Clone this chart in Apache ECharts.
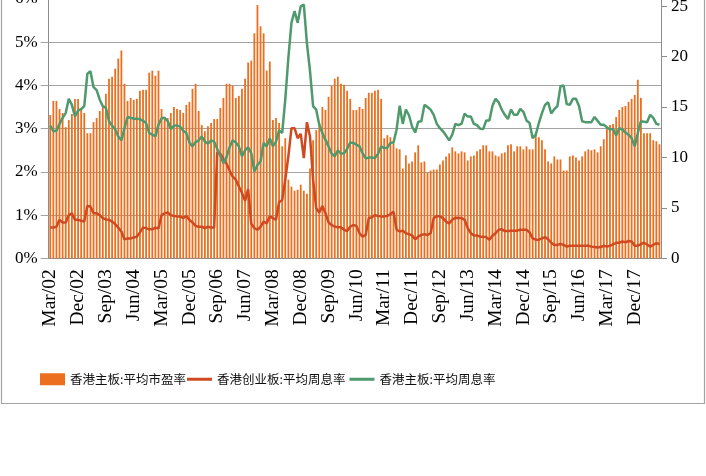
<!DOCTYPE html>
<html>
<head>
<meta charset="utf-8">
<script src="https://cdn.jsdelivr.net/npm/echarts@6/dist/echarts.min.js"></script>
<style>
  html, body { margin: 0; padding: 0; background: #fff; }
  #chart { width: 706px; height: 476px; }
</style>
</head>
<body>
<div id="chart"></div>
<script>
// 月份: 2002年3月 起, 共198个月
var startYear = 2002
var startMonth = 3
var monthCount = 198
var monthNames = ['Jan', 'Feb', 'Mar', 'Apr', 'May', 'Jun', 'Jul', 'Aug', 'Sep', 'Oct', 'Nov', 'Dec']

// 香港主板:平均市盈率 (右轴)
var mainPE = [
  14.2, 15.6, 15.6, 14.8, 14.4, 13.0, 13.7, 14.3, 15.8, 15.8,
  14.9, 14.4, 12.4, 12.4, 13.5, 13.9, 14.6, 15.0, 16.3, 17.8,
  18.0, 18.8, 19.8, 20.6, 17.3, 15.6, 15.9, 15.7, 15.8, 16.6,
  16.7, 16.7, 18.4, 18.6, 18.1, 18.6, 14.8, 14.0, 13.9, 14.4,
  15.0, 14.8, 14.7, 14.4, 15.2, 15.5, 16.8, 17.3, 14.6, 13.2,
  12.6, 13.1, 13.4, 13.8, 13.8, 14.9, 15.9, 17.3, 17.3, 17.1,
  15.9, 16.1, 16.8, 17.8, 19.4, 19.6, 22.3, 25.1, 23.0, 22.3,
  18.6, 19.5, 13.7, 13.9, 13.4, 11.1, 11.9, 7.8, 7.1, 6.7,
  6.8, 7.3, 6.7, 6.4, 8.9, 11.7, 12.7, 13.4, 15.0, 14.7,
  16.0, 17.1, 17.8, 18.0, 17.3, 17.2, 16.6, 15.8, 14.7, 14.7,
  15.0, 14.8, 15.9, 16.4, 16.4, 16.6, 16.7, 15.8, 11.9, 12.2,
  12.0, 11.4, 10.9, 10.8, 8.9, 10.2, 9.4, 9.6, 10.5, 11.2,
  9.5, 9.6, 8.5, 8.7, 8.8, 8.8, 9.3, 9.7, 10.1, 10.4,
  11.0, 10.6, 10.4, 10.6, 10.5, 9.7, 10.1, 10.2, 10.6, 10.8,
  11.2, 11.2, 10.6, 10.6, 10.2, 10.1, 10.4, 10.5, 11.2, 11.3,
  10.6, 11.1, 11.1, 10.8, 11.1, 10.8, 10.8, 12.5, 12.0, 11.7,
  10.8, 9.6, 9.4, 10.1, 9.8, 9.8, 8.7, 8.7, 10.1, 10.2,
  10.0, 9.7, 10.1, 10.6, 10.8, 10.7, 10.8, 10.5, 11.1, 11.8,
  12.9, 13.2, 13.3, 14.0, 14.7, 15.0, 15.1, 15.5, 15.8, 16.2,
  17.7, 15.9, 12.4, 12.4, 12.4, 11.7, 11.6, 11.3
]

// 香港创业板:平均周息率 (左轴, %)
var gemYield = [
  0.71, 0.71, 0.73, 0.89, 0.83, 0.83, 1.00, 1.04, 0.89, 0.89,
  0.87, 0.85, 1.21, 1.20, 1.04, 1.04, 1.00, 0.93, 0.90, 0.89,
  0.85, 0.79, 0.71, 0.62, 0.44, 0.46, 0.46, 0.48, 0.50, 0.60,
  0.71, 0.70, 0.67, 0.67, 0.71, 0.69, 1.00, 1.04, 1.06, 1.00,
  0.98, 0.97, 0.97, 0.93, 0.98, 0.89, 0.83, 0.75, 0.73, 0.73,
  0.70, 0.73, 0.71, 0.71, 2.45, 2.42, 2.30, 2.19, 2.03, 1.89,
  1.82, 1.66, 1.51, 1.33, 1.60, 0.80, 0.70, 0.66, 0.73, 0.85,
  0.81, 0.97, 0.93, 0.89, 1.30, 1.35, 1.82, 2.36, 3.01, 3.01,
  2.78, 2.88, 2.32, 3.15, 2.82, 1.82, 1.16, 1.06, 1.21, 1.04,
  0.83, 0.77, 0.73, 0.72, 0.72, 0.66, 0.63, 0.73, 0.77, 0.75,
  0.58, 0.50, 0.54, 0.93, 0.95, 1.00, 0.98, 0.97, 0.97, 0.98,
  1.02, 1.08, 0.66, 0.62, 0.64, 0.58, 0.56, 0.53, 0.44, 0.50,
  0.54, 0.56, 0.54, 0.58, 0.93, 0.98, 0.97, 0.93, 0.85, 0.81,
  0.89, 0.94, 0.93, 0.93, 0.89, 0.70, 0.58, 0.53, 0.53, 0.50,
  0.50, 0.49, 0.43, 0.52, 0.58, 0.66, 0.67, 0.63, 0.63, 0.64,
  0.64, 0.64, 0.66, 0.66, 0.66, 0.60, 0.46, 0.43, 0.43, 0.46,
  0.49, 0.44, 0.36, 0.31, 0.31, 0.33, 0.31, 0.27, 0.29, 0.29,
  0.29, 0.29, 0.29, 0.29, 0.29, 0.27, 0.26, 0.25, 0.26, 0.29,
  0.27, 0.29, 0.32, 0.36, 0.36, 0.39, 0.37, 0.40, 0.39, 0.29,
  0.29, 0.33, 0.36, 0.32, 0.27, 0.31, 0.35, 0.33
]

// 香港主板:平均周息率 (左轴, %)
var mainYield = [
  3.07, 2.94, 2.95, 3.11, 3.25, 3.36, 3.69, 3.55, 3.28, 3.42,
  3.45, 3.52, 4.27, 4.33, 3.96, 3.89, 3.67, 3.52, 3.48, 3.17,
  3.07, 2.98, 2.82, 2.73, 3.01, 3.27, 3.25, 3.23, 3.23, 3.22,
  3.18, 3.13, 2.90, 2.86, 2.82, 3.09, 3.24, 3.25, 3.17, 2.99,
  3.07, 3.07, 3.05, 2.95, 2.90, 2.68, 2.59, 2.69, 2.73, 2.82,
  2.70, 2.65, 2.73, 2.70, 2.53, 2.37, 2.20, 2.34, 2.57, 2.73,
  2.68, 2.59, 2.36, 2.50, 2.57, 2.43, 2.01, 2.16, 2.24, 2.67,
  2.59, 2.78, 2.59, 2.70, 2.96, 2.90, 3.67, 4.64, 5.45, 5.72,
  5.45, 5.83, 5.87, 4.98, 4.33, 3.52, 3.44, 3.09, 2.90, 2.74,
  2.59, 2.42, 2.36, 2.50, 2.42, 2.43, 2.53, 2.68, 2.67, 2.63,
  2.59, 2.43, 2.31, 2.33, 2.33, 2.32, 2.42, 2.59, 2.55, 2.56,
  2.67, 2.68, 2.98, 3.53, 3.11, 3.44, 3.31, 3.05, 2.91, 3.16,
  3.17, 3.55, 3.50, 3.44, 3.32, 3.11, 3.01, 2.94, 2.84, 2.73,
  2.86, 3.11, 3.08, 3.11, 3.35, 3.28, 3.28, 3.11, 3.08, 3.00,
  2.99, 3.19, 3.19, 3.53, 3.69, 3.61, 3.44, 3.32, 3.22, 3.44,
  3.32, 3.32, 3.46, 3.39, 3.19, 3.13, 2.78, 2.86, 3.13, 3.36,
  3.55, 3.61, 3.35, 3.45, 3.52, 3.98, 4.00, 3.57, 3.55, 3.69,
  3.69, 3.52, 3.17, 3.15, 3.15, 3.15, 3.27, 3.18, 3.09, 3.09,
  3.03, 2.98, 2.99, 2.84, 3.01, 2.98, 2.91, 2.86, 2.78, 2.59,
  2.90, 3.17, 3.16, 3.15, 3.32, 3.25, 3.11, 3.09
]

var legendNames = ['香港主板:平均市盈率', '香港创业板:平均周息率', '香港主板:平均周息率']

var months = []
for (var i = 0; i < monthCount; i++) {
  var m = startMonth - 1 + i
  var y = startYear + Math.floor(m / 12)
  months.push(monthNames[m % 12] + '/' + String(y % 100).padStart(2, '0'))
}

var axisGray = '#8c8c8c'
var serif = '"Liberation Serif", "Times New Roman", serif'
var legendText = {
  color: '#111',
  fontSize: 12.5,
  fontFamily: '"Noto Sans CJK SC", sans-serif'
}

var myChart = echarts.init(document.getElementById('chart'))
var option = {
  animation: false,
  color: ['#EB6F1E', '#CF4A20', '#4E9A6C'],
  grid: {
    left: 48.7,
    right: 45,
    top: -1,
    height: 259.3,
    containLabel: false,
    outerBoundsMode: 'none'
  },
  // 柱形图例和折线图例分开, 图标尺寸不同
  legend: [
    {
      left: 35,
      top: 368,
      icon: 'rect',
      itemWidth: 25,
      itemHeight: 12,
      textStyle: legendText,
      data: [legendNames[0]]
    },
    {
      left: 182,
      top: 368,
      icon: 'rect',
      itemWidth: 25,
      itemHeight: 3,
      itemGap: 4,
      textStyle: legendText,
      data: [legendNames[1], legendNames[2]]
    }
  ],
  graphic: [
    {
      type: 'rect',
      silent: true,
      shape: { x: 1.5, y: -10, width: 703, height: 413.5 },
      style: { fill: 'none', stroke: '#a3a3a3', lineWidth: 1.2 }
    }
  ],
  xAxis: {
    type: 'category',
    data: months,
    boundaryGap: true,
    axisLine: { lineStyle: { color: axisGray, width: 1 } },
    axisTick: {
      interval: 8,
      alignWithLabel: true,
      length: 6,
      lineStyle: { color: axisGray }
    },
    axisLabel: {
      interval: 8,
      rotate: 90,
      margin: 11,
      color: '#000',
      fontSize: 19.5,
      fontFamily: serif
    }
  },
  yAxis: [
    {
      type: 'value',
      min: 0,
      max: 6,
      interval: 1,
      axisLine: { show: true, lineStyle: { color: axisGray } },
      axisTick: { show: true, length: 8, lineStyle: { color: '#a3a3a3' } },
      axisLabel: {
        formatter: '{value}%',
        margin: 11,
        color: '#000',
        fontSize: 17,
        fontFamily: serif
      },
      splitLine: { lineStyle: { color: '#a3a3a3', width: 1.2 } }
    },
    {
      type: 'value',
      min: 0,
      max: 25.7,
      interval: 5,
      axisLine: { show: true, lineStyle: { color: axisGray } },
      axisTick: { show: true, length: 6, lineStyle: { color: axisGray } },
      axisLabel: {
        showMaxLabel: false,
        margin: 10,
        color: '#000',
        fontSize: 17,
        fontFamily: serif
      },
      splitLine: { show: false }
    }
  ],
  series: [
    {
      name: legendNames[0],
      type: 'bar',
      yAxisIndex: 1,
      barWidth: 1.8,
      data: mainPE
    },
    {
      name: legendNames[1],
      type: 'line',
      yAxisIndex: 0,
      symbol: 'none',
      lineStyle: { width: 2.5 },
      data: gemYield
    },
    {
      name: legendNames[2],
      type: 'line',
      yAxisIndex: 0,
      symbol: 'none',
      lineStyle: { width: 2.5 },
      data: mainYield
    }
  ]
}
myChart.setOption(option)
</script>
</body>
</html>
